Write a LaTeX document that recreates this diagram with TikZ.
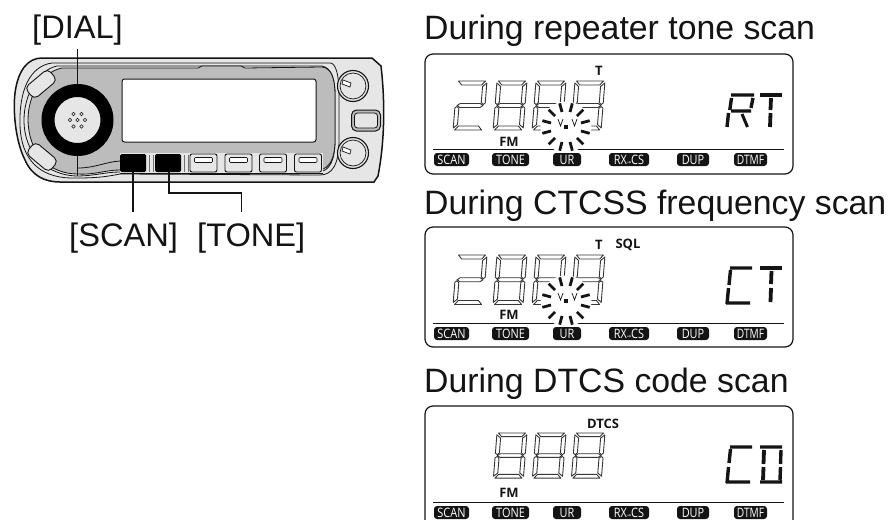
\documentclass[tikz,border=0pt]{standalone}
\usepackage{fontspec}
\setmainfont{Liberation Sans}
\newfontfamily\lcdfont{Open Sans}
\newfontfamily\symfont{DejaVu Sans}
\usetikzlibrary{calc}
\definecolor{ink}{HTML}{141414}
\definecolor{panelfill}{HTML}{E6E6E6}
\definecolor{bezel}{HTML}{BCBCBC}
\tikzset{
  title/.style={anchor=base west,inner sep=0pt,text=ink,font=\fontsize{33.8}{36}\selectfont},
  keylabel/.style={anchor=base west,inner sep=0pt,text=ink,font=\fontsize{32.6}{36}\selectfont},
  lcdframe/.style={draw=ink,line width=1.2pt,rounded corners=8pt,fill=white},
  sgm/.style={draw=ink!85,line width=0.9pt,line join=round,fill=white},
  icon/.style={fill=ink,text=white,rounded corners=3pt,inner sep=0pt,minimum height=13pt,font=\lcdfont\fontsize{13}{13}\selectfont},
  marktext/.style={inner sep=0pt,text=ink,font=\lcdfont\bfseries\fontsize{13}{14}\selectfont},
  bar/.style={draw=ink,line width=3.4pt},
  lead/.style={draw=ink,line width=1.6pt},
  softkey/.style={draw=ink,line width=0.9pt,fill=panelfill,rounded corners=2pt,inner sep=0pt,minimum width=27pt,minimum height=18pt},
  hardkey/.style={fill=black,rounded corners=1.5pt,inner sep=0pt,minimum width=26pt,minimum height=18pt},
  pline/.style={draw=ink,line width=0.8pt},
}
\newcommand{\sgA}{\path[sgm] (1.5,0)--(28.5,0)--(25,4)--(5,4)--cycle;}
\newcommand{\sgB}{\path[sgm] (30,2)--(26,5.5)--(26,21.5)--(28,23.5)--(30,22)--cycle;}
\newcommand{\sgC}{\path[sgm] (30,27)--(28,25.5)--(26,27.5)--(26,43.5)--(30,47)--cycle;}
\newcommand{\sgD}{\path[sgm] (1.5,49)--(5,45)--(25,45)--(28.5,49)--cycle;}
\newcommand{\sgE}{\path[sgm] (0,27)--(2,25.5)--(4,27.5)--(4,43.5)--(0,47)--cycle;}
\newcommand{\sgF}{\path[sgm] (0,2)--(4,5.5)--(4,21.5)--(2,23.5)--(0,22)--cycle;}
\newcommand{\sgG}{\path[sgm] (2,24.5)--(5,22.5)--(25,22.5)--(28,24.5)--(25,26.5)--(5,26.5)--cycle;}
\newcommand{\digitEight}[3]{\begin{scope}[shift={(#1,#2)},xslant=0.08,yscale=#3]\sgA\sgB\sgC\sgD\sgE\sgF\sgG\end{scope}}
\newcommand{\digitTwo}[3]{\begin{scope}[shift={(#1,#2)},xslant=0.08,yscale=#3]\sgA\sgB\sgG\sgE\sgD\end{scope}}
\newcommand{\burst}[2]{\begin{scope}[shift={(#1,#2)}]
  \fill[white] (0,0) circle[radius=25.5];
  \fill[ink] (-2,-2) rectangle (2,2);
  \foreach \a in {15,45,...,345}{\draw[ink,line width=2.8pt] (\a:15.5)--(\a:24.5);}
  \draw[ink,line width=0.7pt] (-8,-8)--(-5.5,-1)--(-3,-8) (6,-8)--(8.5,-1)--(11,-8);
\end{scope}}
\newcommand{\chiptext}[2][0.84]{\scalebox{#1}[1]{#2}}
\newcommand{\iconrow}[2]{%
  \node[icon,minimum width=35pt] (#1scan) at (451.5,#2) {\chiptext{SCAN}};
  \node[icon,minimum width=37pt] (#1tone) at (510.5,#2) {\chiptext{TONE}};
  \node[icon,minimum width=28pt] (#1ur) at (567,#2) {\chiptext{UR}};
  \node[icon,minimum width=40pt] (#1rx) at (629,#2) {\chiptext{RX{\symfont\fontsize{6}{6}\selectfont→}CS}};
  \node[icon,minimum width=32pt] (#1dup) at (693,#2) {\chiptext{DUP}};
  \node[icon,minimum width=33pt] (#1dtmf) at (750.5,#2) {\chiptext[0.78]{DTMF}};
}
\begin{document}
\begin{tikzpicture}[x=1pt,y=-1pt]
\useasboundingbox (0,0) rectangle (890,519);
\clip (0,0) rectangle (890,519);
\fill[white] (0,0) rectangle (890,519);

% ---------- radio panel
\path[pline,line width=1.5pt,fill=panelfill] (42,58)--(372,58)--(381,66)
  .. controls (385,100) and (385,140) .. (378,176)--(374,182)--(60,182)
  .. controls (45,182) and (32,176) .. (25,160)
  .. controls (15,140) and (13,110) .. (15,93)
  .. controls (18,70) and (28,58) .. (42,58)--cycle;
\path[pline,fill=panelfill] (52,63)--(330,63)
  .. controls (336,63) and (339,75) .. (339,95)--(339,140) .. controls (339,165) and (332,175) .. (320,175)
  --(120,174) .. controls (100,178) and (90,178) .. (70,178) .. controls (40,177) and (21,160) .. (20,125) .. controls (19,90) and (30,66) .. (52,63)--cycle;
\path[pline,fill=panelfill] (57,66)--(322,66) .. controls (332,68) and (335,80) .. (335,95)
  --(335,140) .. controls (335,160) and (330,170) .. (320,172)
  --(120,172) .. controls (105,172) and (95,176) .. (76,176)
  .. controls (48,175) and (24,155) .. (24,120)
  .. controls (24,95) and (38,70) .. (57,66)--cycle;
\path[pline,fill=bezel] (62,68)--(198,68)--(202,66)--(241,66)--(245,68)--(322,67)
  .. controls (332,68) and (335,80) .. (335,95)--(335,140)
  .. controls (335,158) and (330,168) .. (320,170)--(120,170)
  .. controls (105,170) and (95,175) .. (78,174)
  .. controls (50,174) and (29,155) .. (28,120)
  .. controls (28,95) and (42,72) .. (62,68)--cycle;
\draw[pline] (78,168) .. controls (95,168) and (105,162) .. (120,161);
\node[draw=ink,line width=0.9pt,fill=panelfill,rounded corners=5pt,rotate=40,inner sep=0pt,minimum width=30pt,minimum height=15pt] (capsuleA) at (41,84) {};
\node[draw=ink,line width=0.9pt,fill=panelfill,rounded corners=5pt,rotate=-40,inner sep=0pt,minimum width=30pt,minimum height=15pt] (capsuleB) at (42,157) {};
\node[draw=ink,line width=1pt,fill=white,rounded corners=2.5pt,inner sep=0pt,minimum width=194pt,minimum height=63pt] (display) at (219,110.5) {};
\path[fill=panelfill] (120,153) rectangle (323,173);
\draw[pline] (120,173)--(323,173);
\foreach \xa in {149,153,184,188}{\draw[ink!60,line width=0.4pt] (\xa,155)--(\xa,172);}
\draw[pline] (77.5,155)--(77.5,176);
% dial
\node[circle,draw=black,line width=13pt,fill=panelfill,inner sep=0pt,minimum size=59pt] (dialknob) at (77.5,120) {};
\foreach \dx/\dy in {-4/-6,4/-6,-7.5/0,0/0,7.5/0,-4/6.5,4/6.5}{\draw[ink,line width=0.6pt] (77.5+\dx,120+\dy) circle[radius=1.7];}
% keys
\node[hardkey] (scankey) at (133,163) {};
\node[hardkey] (tonekey) at (168,163) {};
\foreach \n/\xc in {ka/203.5,kb/238.5,kc/273,kd/308}{
  \node[softkey] (\n) at (\xc,163) {};
  \node[draw=ink,line width=0.6pt,fill=white,rounded corners=1pt,inner sep=0pt,minimum width=18pt,minimum height=5pt] (\n i) at (\xc,160) {};
}
% right controls
\foreach \n/\yc in {knobA/86,knobB/153}{
  \node[circle,draw=ink,line width=1.1pt,fill=panelfill,inner sep=0pt,minimum size=31pt] (\n) at (353,\yc) {};
  \node[circle,draw=ink,line width=0.7pt,inner sep=0pt,minimum size=26pt] (\n i) at (353,\yc) {};
  \draw[ink,line width=0.7pt,fill=white] (343,\yc-6)--(351,\yc-3)--(350,\yc+1)--(342,\yc-2)--cycle;
}
\node[draw=ink,line width=1pt,fill=bezel,rounded corners=5pt,inner sep=0pt,minimum width=29pt,minimum height=21pt] (centrekey) at (366,120.5) {};
\node[draw=ink,line width=0.8pt,fill=panelfill,rounded corners=3pt,inner sep=0pt,minimum width=23pt,minimum height=15pt] (centrekeyi) at (366,120.5) {};
% labels and leaders
\node[keylabel] (diallabel) at (32,38) {[DIAL]};
\node[keylabel] (scanlabel) at (69,246) {[SCAN]};
\node[keylabel] (tonelabel) at (197,246) {[TONE]};
\coordinate (dialend) at (77.5,49);
\coordinate (scanend) at (133,212);
\coordinate (toneend) at (241.5,212);
\draw[lead] (dialend) -- (dialknob.north);
\draw[lead] (scankey.south) -- (scanend);
\draw[lead] (tonekey.south) ++(1,0) |- (220,193) -| (toneend);

% ---------- first LCD
\node[title] (head1) at (424,40) {During repeater tone scan};
\path[lcdframe] (425,54) rectangle (793,174);
\digitTwo{457}{81}{1}
\digitEight{497}{81}{1}
\digitEight{536}{81}{1}
\digitEight{575}{81}{1}
\draw[ink,line width=0.9pt] (433,149)--(784,149);
\iconrow{a}{159.5}
\burst{566}{127}
\node[marktext] (at) at (599,71) {T};
\node[marktext] (afm) at (509,142) {FM};
\draw[bar] (731,95)--(754,95) (731.5,98)--(729.8,110) (728.5,113)--(727,127) (753,98)--(751,108) (731,111)--(751,111);
\draw[ink,line width=3pt] (742,114)--(747.5,127);
\draw[bar] (760,95)--(782,95);
\draw[ink,line width=3.8pt] (771,98)--(770.5,110) (770.5,113)--(770,127);

% ---------- second LCD
\node[title] (head2) at (424,214) {During CTCSS frequency scan};
\path[lcdframe] (425,227) rectangle (793,347);
\digitTwo{457}{255}{1.01}
\digitEight{497}{255}{1.01}
\digitEight{536}{255}{1.01}
\digitEight{575}{255}{1.01}
\draw[ink,line width=0.9pt] (433,323)--(784,323);
\iconrow{b}{333.5}
\burst{566}{301}
\node[marktext] (bt) at (599,245) {T};
\node[marktext] (bsql) at (628,245) {SQL};
\node[marktext] (bfm) at (509,315) {FM};
\draw[bar] (730,268)--(752,268) (730.5,270)--(729,285) (728.5,288)--(727,304) (726,303)--(750,303);
\draw[bar] (760,268)--(782,268);
\draw[ink,line width=3.8pt] (771.5,271)--(771,284) (771,288)--(770.5,302);

% ---------- third LCD
\node[title] (head3) at (424,392) {During DTCS code scan};
\path[lcdframe] (425,530) -- (425,406) -- (793,406) -- (793,530);
\digitEight{497}{433}{0.92}
\digitEight{536}{433}{0.92}
\digitEight{575}{433}{0.92}
\draw[ink,line width=0.9pt] (433,502)--(784,502);
\iconrow{c}{512.5}
\node[marktext] (cdtcs) at (603,423.5) {DTCS};
\node[marktext] (cfm) at (509,492.5) {FM};
\draw[bar] (730,447)--(752,447) (730.5,449)--(729,463) (728.5,467)--(727,483) (726,482)--(750,482);
\draw[bar] (760,447)--(782,447) (760,482)--(782,482) (781,450)--(780.5,464) (780.5,467)--(780,480);
\draw[ink,line width=3.8pt] (764,450)--(763.5,464) (763.5,467)--(763,480);
\end{tikzpicture}
\end{document}
